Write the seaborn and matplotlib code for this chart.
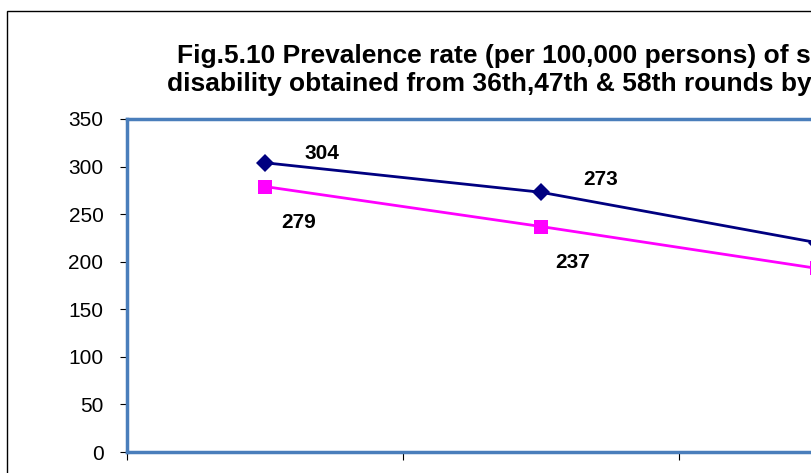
import matplotlib
matplotlib.use("Agg")
import matplotlib.pyplot as plt
from matplotlib.patches import Rectangle
import seaborn as sns
import pandas as pd

rounds = ["36th round", "47th round", "58th round"]
series_names = ["Series1", "Series2"]
series1 = [304, 273, 220]
series2 = [279, 237, 193]
y_ticks = [0, 50, 100, 150, 200, 250, 300, 350]
title_lines = ["Fig.5.10 Prevalence rate (per 100,000 persons) of speech",
               "disability obtained from 36th,47th & 58th rounds by sex"]

df = pd.DataFrame({
    "round": rounds * 2,
    "rate": series1 + series2,
    "series": [series_names[0]] * 3 + [series_names[1]] * 3,
})

sns.set_theme(style="white")
plt.rcParams["font.family"] = ["Liberation Sans", "DejaVu Sans"]
plt.rcParams["text.color"] = "black"
plt.rcParams["xtick.color"] = "black"
plt.rcParams["ytick.color"] = "black"

W, H = 811, 473
fig = plt.figure(figsize=(W / 100, H / 100), dpi=100)
# plot area runs past the right edge, like the cropped original
ax = fig.add_axes([127 / W, (H - 452) / H, 828 / W, 333 / H])

sns.lineplot(data=df, x="round", y="rate", hue="series", style="series",
             markers=["D", "s"], dashes=False, palette=["#000080", "#FF00FF"],
             linewidth=2, sort=False, legend=False, ax=ax)
for line, ms in zip(ax.lines, [9, 10]):
    line.set_markersize(ms)
    line.set_markeredgewidth(0)

ax.set_xlim(-0.5, 2.5)
ax.set_ylim(0, 350)
ax.set_xticks([-0.5, 0.5, 1.5, 2.5])
ax.set_xticklabels([])
ax.set_yticks(y_ticks)
ax.set_yticklabels([str(t) for t in y_ticks], fontsize=15, color="black")
ax.set_xlabel("")
ax.set_ylabel("")
ax.tick_params(axis="both", direction="out", length=5, width=0.8, color="black",
               left=True, bottom=True, pad=12)
ax.tick_params(axis="x", length=6)

for s in ax.spines.values():
    s.set_color("#4A7EBB")
    s.set_linewidth(2.5)
ax.axvline(-0.5, color="black", lw=0.9, clip_on=False)
ax.axhline(0, color="black", lw=0.9, clip_on=False)

# only the first two rounds' labels fall inside the visible crop
offsets = {0: [(57, 9), (60, 13)],
           1: [(34, -36), (32, -36)]}
for k, vals in enumerate([series1, series2]):
    for i, off in enumerate(offsets[k]):
        ax.annotate(str(vals[i]), xy=(i, vals[i]), xytext=off, textcoords="offset pixels",
                    ha="center", va="center", fontsize=15, fontweight="bold", color="black")

fig.text(177 / W, 1 - 63 / H, title_lines[0], ha="left", va="baseline",
         fontsize=19, fontweight="bold", color="black")
fig.text(167 / W, 1 - 91 / H, title_lines[1], ha="left", va="baseline",
         fontsize=19, fontweight="bold", color="black")

fig.patches.append(Rectangle((7 / W, -0.5), 2, 0.5 + 1 - 11 / H, transform=fig.transFigure,
                             fill=False, edgecolor="black", linewidth=1))

fig.savefig("out.png", dpi=100)
